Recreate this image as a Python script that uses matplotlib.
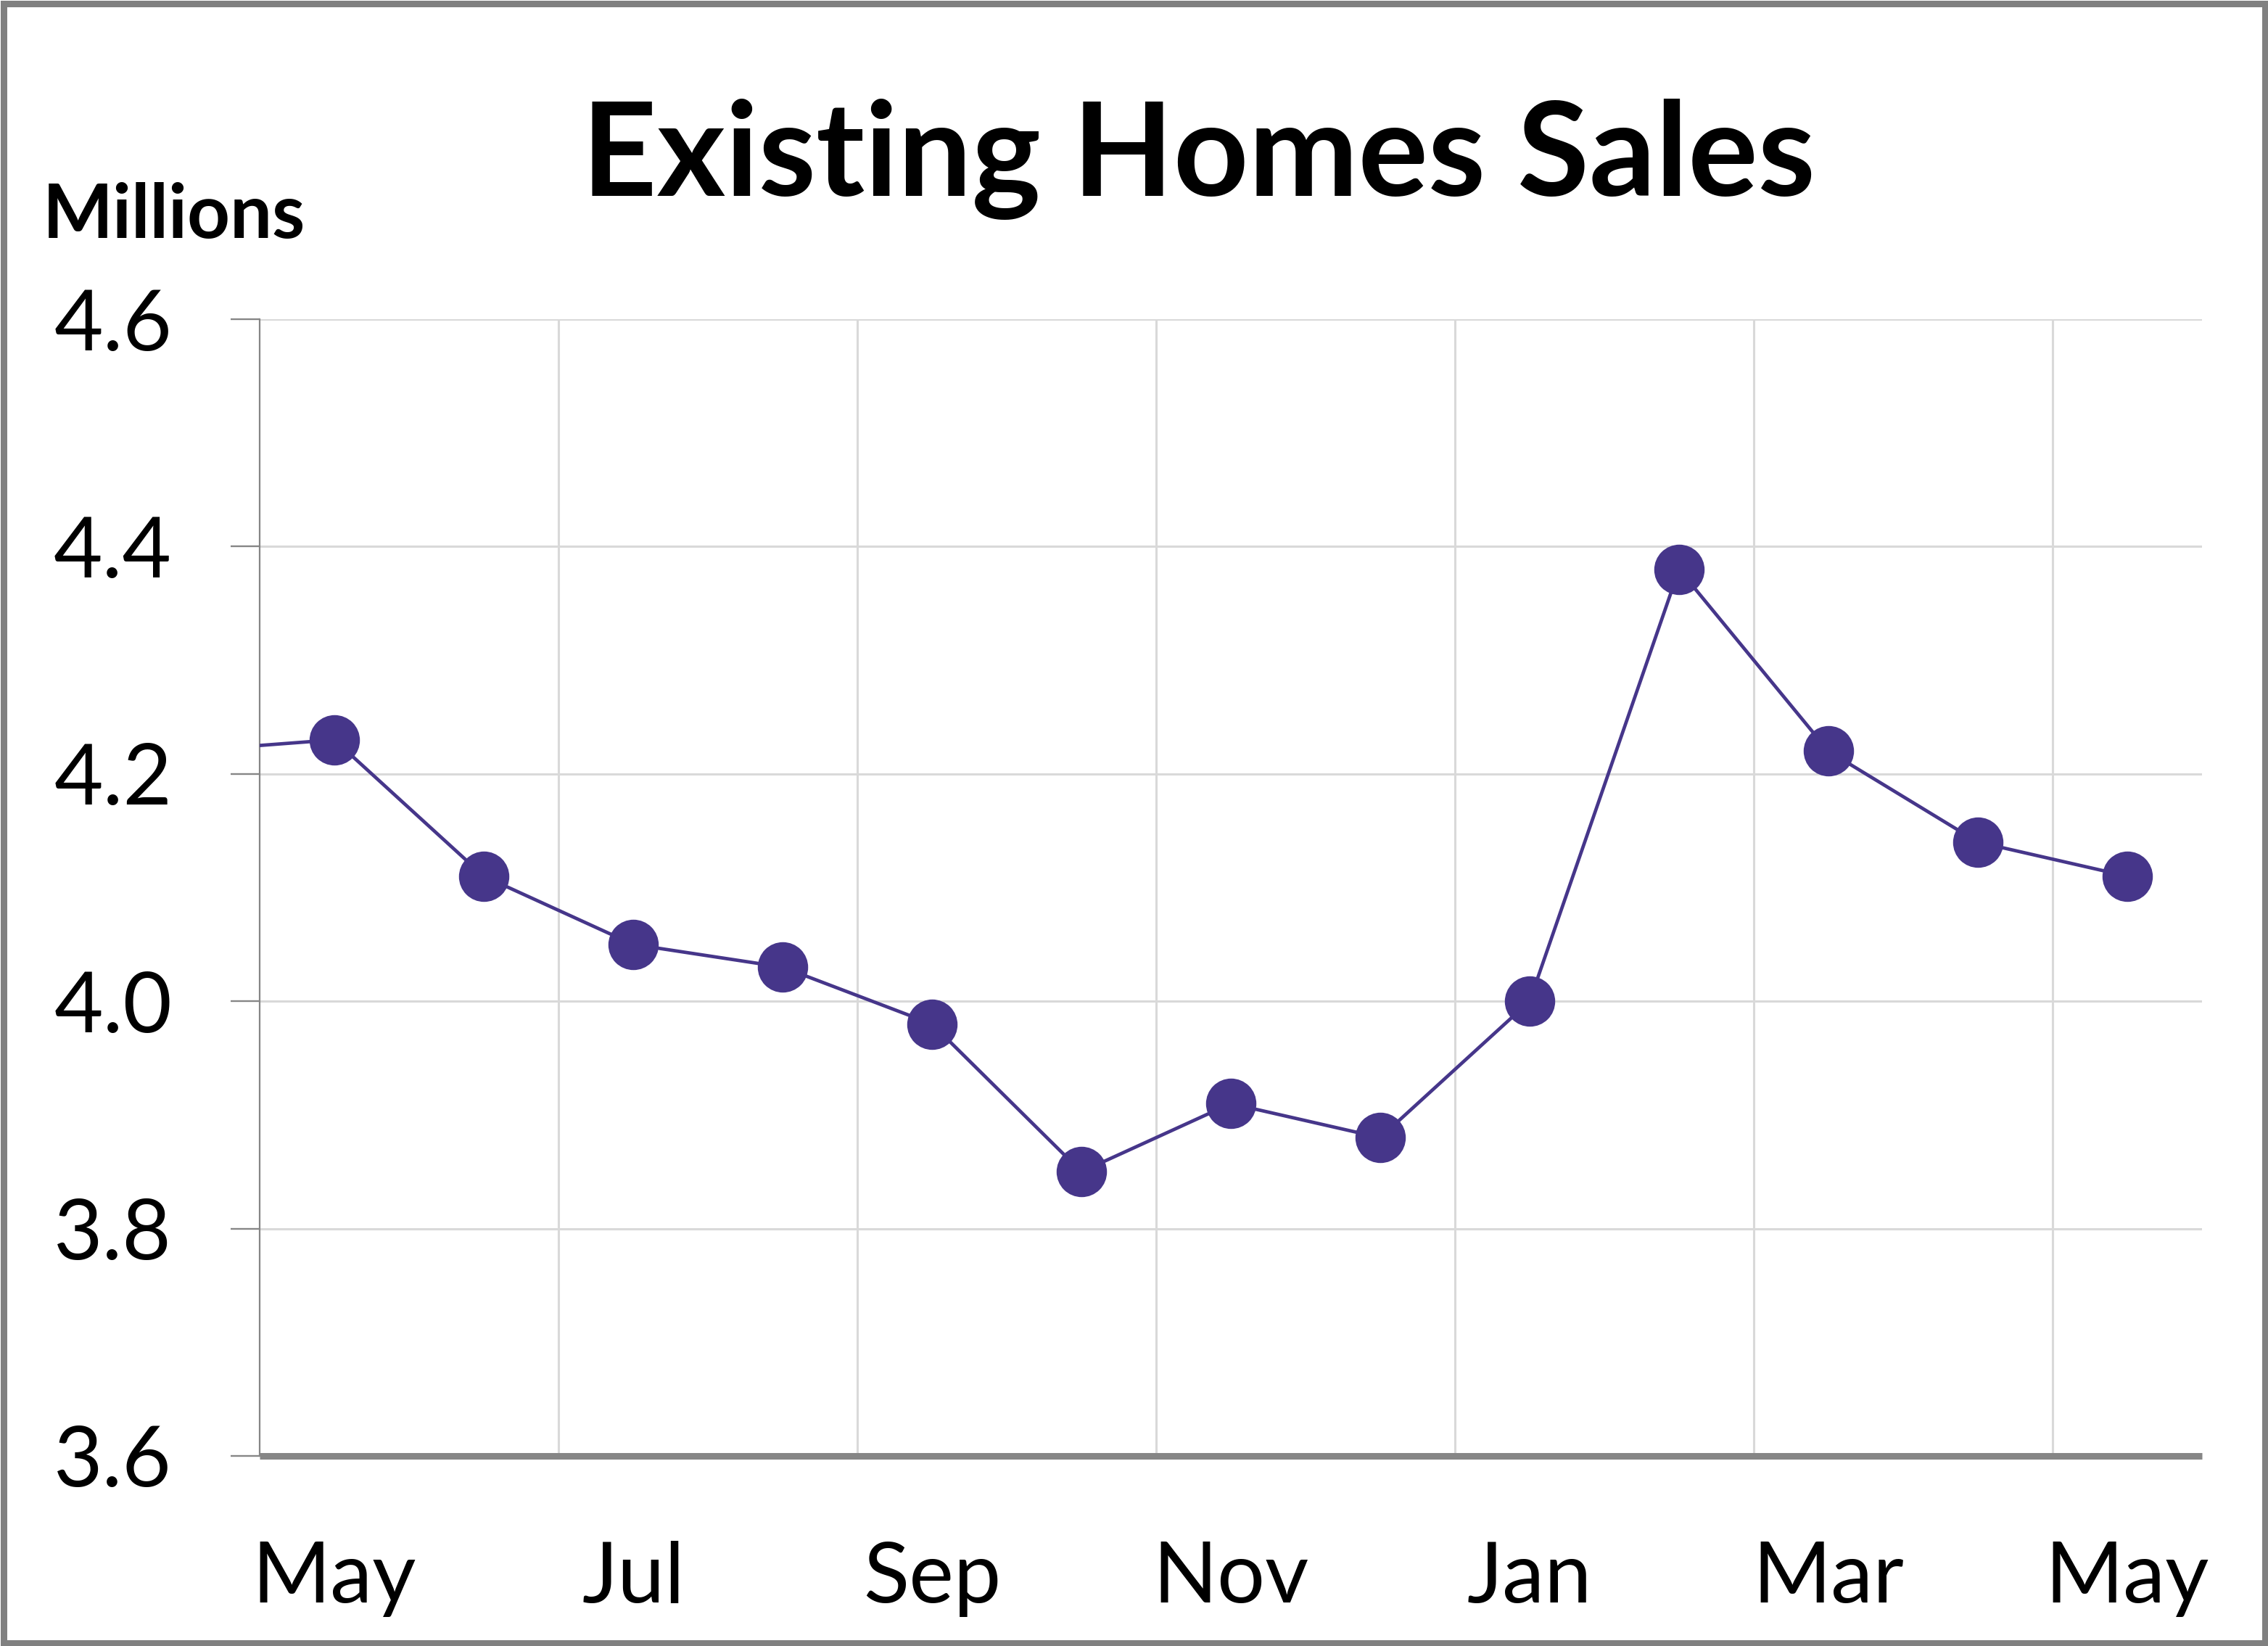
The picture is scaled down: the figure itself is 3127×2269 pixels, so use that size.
import matplotlib
matplotlib.use("Agg")
import matplotlib.pyplot as plt
from matplotlib.patches import Rectangle

plt.rcParams['font.family'] = ['Lato', 'DejaVu Sans']

# Data (millions of existing home sales, SAAR)
months = ["Apr", "May", "Jun", "Jul", "Aug", "Sep", "Oct", "Nov", "Dec",
          "Jan", "Feb", "Mar", "Apr", "May"]
sales = [4.22, 4.23, 4.11, 4.05, 4.03, 3.98, 3.85, 3.91, 3.88,
         4.00, 4.38, 4.22, 4.14, 4.11]
yticks = [3.6, 3.8, 4.0, 4.2, 4.4, 4.6]
title = "Existing Homes Sales"
unit_label = "Millions"

W, H = 3127, 2269
DPI = 100
fig = plt.figure(figsize=(W / DPI, H / DPI), dpi=DPI)
fig.patch.set_facecolor("white")

left, right, top, bottom = 358, 3036, 440, 2007
ax = fig.add_axes([left / W, 1 - bottom / H, (right - left) / W, (bottom - top) / H])

x = list(range(-1, len(months) - 1))
ax.plot(x, sales, color="#46368A", lw=3.4, marker="o", markersize=50,
        markeredgewidth=0, zorder=3)

ax.set_xlim(-0.5, 12.5)
ax.set_ylim(3.6, 4.6)

# x ticks: every other month label
major = [i for i in range(0, 13, 2)]
ax.set_xticks(major)
ax.set_xticklabels([months[i + 1] for i in major])
ax.set_xticks([i + 0.5 for i in range(1, 12, 2)], minor=True)
ax.tick_params(axis="x", which="both", length=0, labelsize=84, pad=84)

ax.set_yticks(yticks)
ax.set_yticklabels([f"{v:.1f}" for v in yticks])
ax.tick_params(axis="y", which="major", length=29, width=1.7, color="#868686",
               labelsize=84, pad=58, direction="out")

ax.grid(which="minor", axis="x", color="#d9d9d9", lw=2.2, zorder=0)
ax.grid(which="major", axis="y", color="#d9d9d9", lw=2.2, zorder=0)
ax.set_axisbelow(True)

for s in ["top", "right"]:
    ax.spines[s].set_visible(False)
ax.spines["left"].set_color("#868686")
ax.spines["left"].set_linewidth(1.6)
ax.spines["bottom"].set_color("#868686")
ax.spines["bottom"].set_linewidth(6.5)
ax.spines["bottom"].set_capstyle("butt")
ax.spines["bottom"].set_zorder(4)

fig.text(1652 / W, 1 - 270 / H, title, ha="center", va="baseline",
         fontsize=130, fontweight="bold")
fig.text(59 / W, 1 - 328 / H, unit_label, ha="left", va="baseline",
         fontsize=74, fontweight="bold")

bw = 9
fig.patches.append(Rectangle((bw / 2 / W, bw / 2 / H), 1 - bw / W, 1 - bw / H,
                             transform=fig.transFigure, fill=False,
                             edgecolor="#808080", lw=bw * 72 / DPI, zorder=10))

fig.savefig("out.png", dpi=DPI)
